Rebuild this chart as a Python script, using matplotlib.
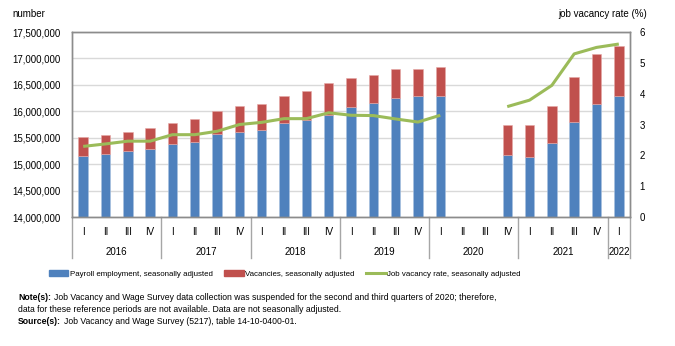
import numpy as np
import matplotlib
matplotlib.use('Agg')
import matplotlib.pyplot as plt
from matplotlib.lines import Line2D
from matplotlib.patches import Patch
from matplotlib.ticker import FuncFormatter
import matplotlib.transforms as mtransforms

plt.rcParams['font.family'] = 'Liberation Sans'

quarters = ['I', 'II', 'III', 'IV'] * 6 + ['I']
years = ['2016', '2017', '2018', '2019', '2020', '2021', '2022']
year_counts = [4, 4, 4, 4, 4, 4, 1]

nan = np.nan
# payroll employment and vacancies (thousands), job vacancy rate (%)
payroll = [15161, 15199, 15243, 15293, 15381, 15413, 15571, 15615,
           15653, 15772, 15829, 15936, 16081, 16151, 16258, 16290,
           16290, nan, nan, 15173, 15136, 15394, 15791, 16144, 16283]
vacancies = [353, 346, 372, 391, 404, 441, 435, 479,
             491, 511, 555, 599, 543, 536, 536, 504,
             554, nan, nan, 568, 605, 700, 864, 940, 952]
vacancy_rate = [2.29, 2.37, 2.46, 2.46, 2.67, 2.67, 2.78, 3.00,
                3.07, 3.19, 3.19, 3.38, 3.30, 3.29, 3.18, 3.08,
                3.30, nan, nan, 3.58, 3.79, 4.27, 5.29, 5.50, 5.61]

blue = '#4F81BD'
red = '#C0504D'
green = '#9BBB59'
grid_col = '#D9D9D9'
axis_col = '#8C8C8C'

x = np.arange(len(quarters))
emp = np.array(payroll) * 1000
vac = np.array(vacancies) * 1000

fig = plt.figure(figsize=(6.75, 3.46), dpi=100)
ax = fig.add_axes([0.1067, 0.3728, 0.8266, 0.5347])
ax2 = ax.twinx()

ax.bar(x, emp - 14_000_000, bottom=14_000_000, width=0.42, color=blue,
       edgecolor='#A9C1E0', linewidth=0.4, zorder=2)
ax.bar(x, vac, bottom=emp, width=0.42, color=red,
       edgecolor='#E6A8A6', linewidth=0.4, zorder=2)
ax2.plot(x, vacancy_rate, color=green, linewidth=2.2, solid_capstyle='butt', zorder=3)

ax.set_xlim(-0.5, len(quarters) - 0.5)
ax.set_ylim(14_000_000, 17_500_000)
ax.set_yticks(np.arange(14_000_000, 17_500_001, 500_000))
ax.yaxis.set_major_formatter(FuncFormatter(lambda v, p: f'{int(v):,}'))
ax2.set_ylim(0, 6)
ax2.set_yticks(range(0, 7))

ax.grid(axis='y', color=grid_col, linewidth=1.0, zorder=0)
ax.set_axisbelow(True)

ax.set_xticks(x)
ax.set_xticklabels(quarters)
ax.tick_params(axis='x', length=0, pad=7, labelsize=7)
ax.tick_params(axis='y', length=0, pad=8, labelsize=7)
ax2.tick_params(axis='y', length=0, pad=7, labelsize=7)

for a in (ax, ax2):
    for s in a.spines.values():
        s.set_color(axis_col)
        s.set_linewidth(1.0)

# year labels and separators under the quarter labels
trans = mtransforms.blended_transform_factory(ax.transData, ax.transAxes)
start = 0
seps = [-0.5]
for yr, n in zip(years, year_counts):
    ax.text(start + (n - 1) / 2, -0.19, yr, transform=trans, ha='center',
            va='center', fontsize=7)
    start += n
    seps.append(start - 0.5)
for s in seps:
    ax.add_line(Line2D([s, s], [0, -0.22], transform=trans, color='#A6A6A6',
                       linewidth=1.0, clip_on=False))

fig.text(12 / 675, 1 - 14 / 346, 'number', fontsize=7, va='center', ha='left')
fig.text(647 / 675, 1 - 14 / 346, 'job vacancy rate (%)', fontsize=7,
         va='center', ha='right')

handles = [Patch(color=blue), Patch(color=red), Line2D([], [], color=green, linewidth=2.2)]
labels = ['Payroll employment, seasonally adjusted',
          'Vacancies, seasonally adjusted',
          'Job vacancy rate, seasonally adjusted']
fig.legend(handles, labels, loc='center left', bbox_to_anchor=(49 / 675, 1 - 274 / 346),
           ncol=3, frameon=False, fontsize=5.7, borderpad=0, borderaxespad=0,
           handlelength=2.45, handleheight=0.75, handletextpad=0.15, columnspacing=1.5)

renderer = fig.canvas.get_renderer()


def note_line(y, bold, rest):
    xpos = 18 / 675
    if bold:
        t = fig.text(xpos, 1 - y / 346, bold, fontsize=6.2, fontweight='bold',
                     va='center', ha='left')
        bb = t.get_window_extent(renderer)
        xpos = (bb.x1 + 3) / fig.bbox.width
    fig.text(xpos, 1 - y / 346, rest, fontsize=6.2, va='center', ha='left')


note_line(298, 'Note(s):', 'Job Vacancy and Wage Survey data collection was suspended '
          'for the second and third quarters of 2020; therefore,')
note_line(310, '', 'data for these reference periods are not available. '
          'Data are not seasonally adjusted.')
note_line(322, 'Source(s):', 'Job Vacancy and Wage Survey (5217), table 14-10-0400-01.')

fig.savefig('out.png', dpi=100)
